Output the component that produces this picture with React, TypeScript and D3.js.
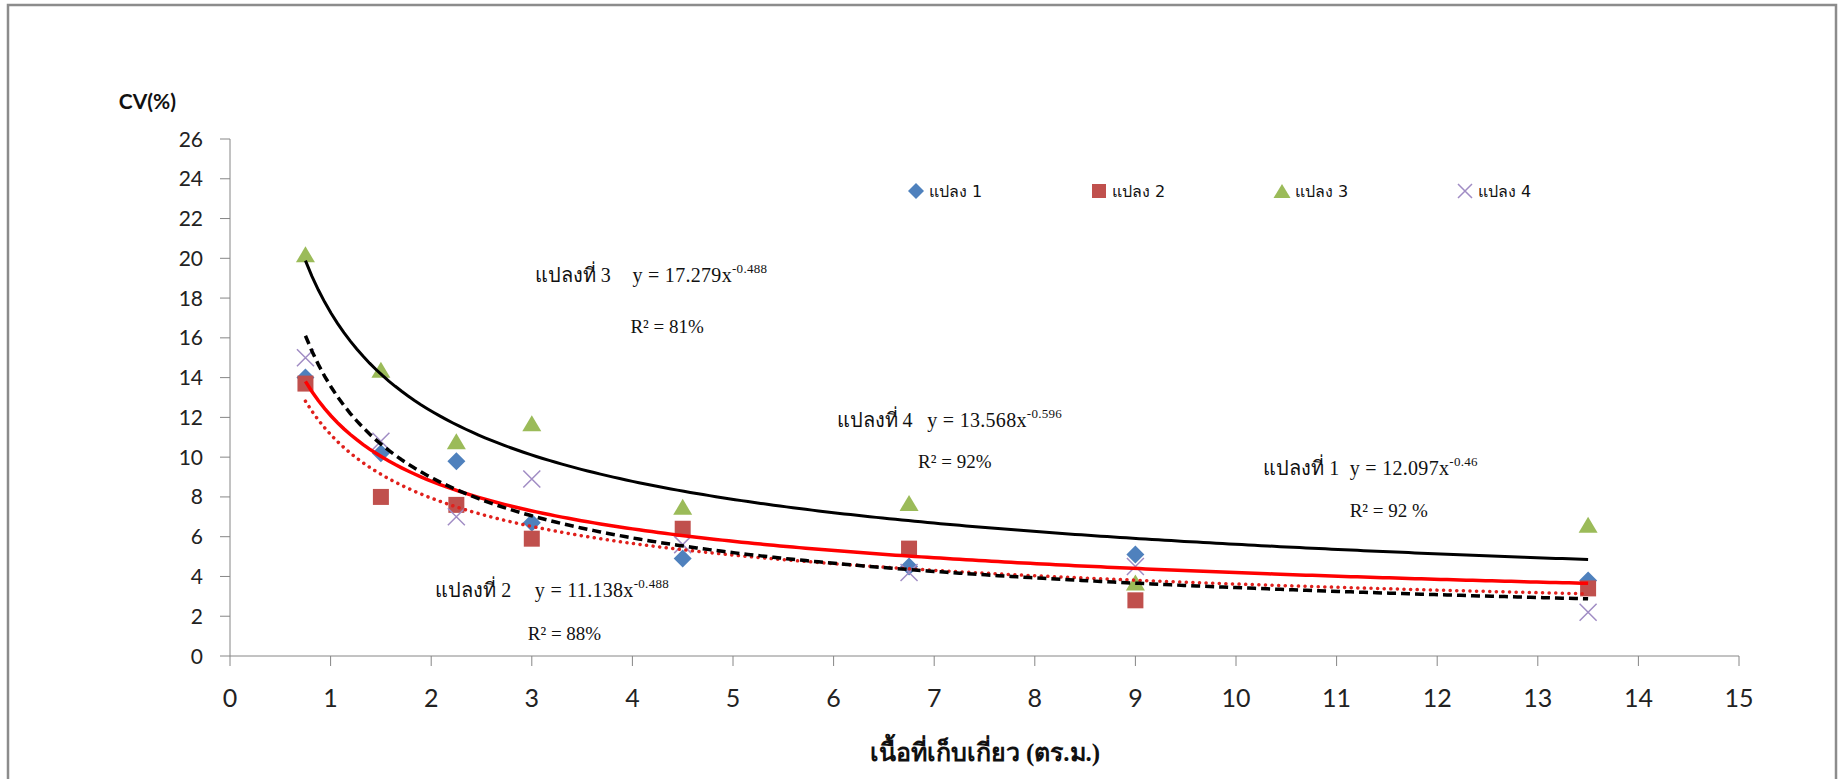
import * as d3 from "d3";

// plot areas (sq.m.) and CV(%) per plot
const areas = [0.75, 1.5, 2.25, 3, 4.5, 6.75, 9, 13.5];
const plot1 = [14.0, 10.2, 9.8, 6.7, 4.9, 4.5, 5.1, 3.8];
const plot2 = [13.7, 8.0, 7.6, 5.9, 6.4, 5.4, 2.8, 3.4];
const plot3 = [20.2, 14.4, 10.8, 11.7, 7.5, 7.7, 3.7, 6.6];
const plot4 = [15.0, 10.8, 7.0, 8.9, 5.6, 4.2, 4.5, 2.2];
const seriesNames = ["แปลง 1", "แปลง 2", "แปลง 3", "แปลง 4"];

// power trendlines y = a x^b
const coefA = [12.097, 11.138, 17.279, 13.568];
const coefB = [-0.46, -0.488, -0.488, -0.596];
const plotLabels = ["แปลงที่ 1", "แปลงที่ 2", "แปลงที่ 3", "แปลงที่ 4"];
const eqTexts = ["y = 12.097x", "y = 11.138x", "y = 17.279x", "y = 13.568x"];
const eqExps = ["-0.46", "-0.488", "-0.488", "-0.596"];
const r2Texts = ["R² = 92 %", "R² = 88%", "R² = 81%", "R² = 92%"];

const xTicks = d3.range(0, 16, 1);
const yTicks = d3.range(0, 27, 2);

const W = 1839;
const H = 779;
const margin = { left: 230, right: 100, top: 139, bottom: 123 };

const colors = ["#4F81BD", "#C0504D", "#9BBB59", "#A08CC4"];
const trendStyle = [
  { stroke: "#FF0000", width: 3.5, dash: undefined, cap: "butt" },
  { stroke: "#E0201C", width: 3.5, dash: "0.1 6.5", cap: "round" },
  { stroke: "#000000", width: 3, dash: undefined, cap: "butt" },
  { stroke: "#000000", width: 3.5, dash: "9 5", cap: "butt" },
];

// annotation anchors in data units: label x, equation x, baseline y, R² x, R² y
const annoAt = [
  [10.27, 11.13, 9.1, 11.13, 7.0],
  [2.04, 3.03, 2.97, 2.96, 0.8],
  [3.03, 4.0, 18.81, 3.98, 16.24],
  [6.03, 6.93, 11.52, 6.84, 9.45],
];

const marker = (i: number, s: number) => {
  const h = s / 2;
  if (i === 0) return `M0,${-h - 1}L${h + 1},0L0,${h + 1}L${-h - 1},0Z`;
  if (i === 1) return `M${-h},${-h}H${h}V${h}H${-h}Z`;
  if (i === 2) return `M0,${-h}L${h + 1.5},${h}L${-h - 1.5},${h}Z`;
  return `M${-h},${-h}L${h},${h}M${h},${-h}L${-h},${h}`;
};

export default function App() {
  const x = d3.scaleLinear().domain([0, 15]).range([margin.left, W - margin.right]);
  const y = d3.scaleLinear().domain([0, 26]).range([H - margin.bottom, margin.top]);
  const series = [plot1, plot2, plot3, plot4];
  const samples = d3.range(0, 201).map((k) => areas[0] + (k / 200) * (areas[areas.length - 1] - areas[0]));
  const line = d3
    .line<number>()
    .x((d) => x(d))
    .curve(d3.curveLinear);

  const axisColor = "#868686";
  const x0 = x(0);
  const y0 = y(0);

  return (
    <svg width={W} height={H} style={{ position: "absolute", left: 0, top: 0, background: "#fff" }}>
      <rect x={8} y={5} width={1828} height={800} fill="#fff" stroke="#8c8c8c" strokeWidth={2.5} />

      <text x={176} y={109} textAnchor="end" fontFamily="Lato, 'Open Sans', sans-serif" fontWeight="bold" fontSize={21} fill="#111">
        CV(%)
      </text>

      {/* y axis */}
      <line x1={x0} x2={x0} y1={y(26)} y2={y0} stroke={axisColor} />
      {yTicks.map((t) => (
        <g key={"y" + t}>
          <line x1={x0 - 10} x2={x0} y1={y(t)} y2={y(t)} stroke={axisColor} />
          <text x={203} y={y(t)} dy="0.36em" textAnchor="end" fontFamily="Lato, sans-serif" fontSize={21} fill="#222">
            {t}
          </text>
        </g>
      ))}

      {/* x axis */}
      <line x1={x0} x2={x(15)} y1={y0} y2={y0} stroke={axisColor} />
      {xTicks.map((t) => (
        <g key={"x" + t}>
          <line x1={x(t)} x2={x(t)} y1={y0} y2={y0 + 10} stroke={axisColor} />
          <text x={x(t)} y={707} textAnchor="middle" fontFamily="Lato, sans-serif" fontSize={25} fill="#222">
            {t}
          </text>
        </g>
      ))}
      <text x={985} y={761} textAnchor="middle" fontFamily="'Liberation Serif', serif" fontWeight="bold" fontSize={25} fill="#111">
        เนื้อที่เก็บเกี่ยว (ตร.ม.)
      </text>

      {/* points */}
      {series.map((vals, i) => (
        <g key={"s" + i}>
          {vals.map((v, j) => (
            <path
              key={j}
              d={marker(i, i === 3 ? 17 : 16)}
              transform={`translate(${x(areas[j])},${y(v)})`}
              fill={i === 3 ? "none" : colors[i]}
              stroke={colors[i]}
              strokeWidth={i === 3 ? 1.5 : 0}
            />
          ))}
        </g>
      ))}

      {/* trendlines */}
      {coefA.map((a, i) => {
        const l = line.y((d) => y(a * Math.pow(d, coefB[i])));
        const st = trendStyle[i];
        return (
          <path
            key={"t" + i}
            d={l(samples) || ""}
            fill="none"
            stroke={st.stroke}
            strokeWidth={st.width}
            strokeDasharray={st.dash}
            strokeLinecap={st.cap as any}
          />
        );
      })}

      {/* equations */}
      {annoAt.map((p, i) => (
        <g key={"a" + i} fontFamily="'Liberation Serif', 'Times New Roman', serif" fill="#111">
          <text x={x(p[0])} y={y(p[2])} fontSize={20}>
            {plotLabels[i]}
          </text>
          <text x={x(p[1])} y={y(p[2])} fontSize={20} letterSpacing={0.3}>
            {eqTexts[i]}
            <tspan fontSize={13} dy={-9}>
              {eqExps[i]}
            </tspan>
          </text>
          <text x={x(p[3])} y={y(p[4])} fontSize={19}>
            {r2Texts[i]}
          </text>
        </g>
      ))}

      {/* legend */}
      {seriesNames.map((n, i) => (
        <g key={"l" + i} transform={`translate(${916 + i * 183},191)`}>
          <path
            d={marker(i, 14)}
            fill={i === 3 ? "none" : colors[i]}
            stroke={colors[i]}
            strokeWidth={i === 3 ? 1.5 : 0}
          />
          <text x={13} dy="0.35em" fontFamily="'DejaVu Sans', sans-serif" fontSize={16} fill="#111">
            {n}
          </text>
        </g>
      ))}
    </svg>
  );
}
